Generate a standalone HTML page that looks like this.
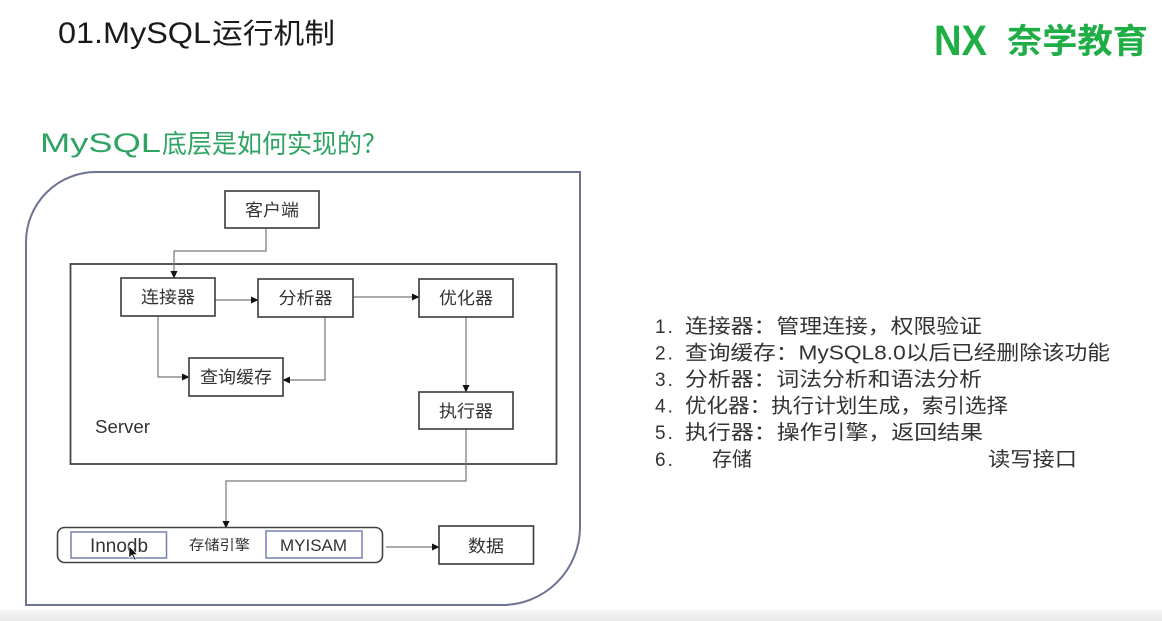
<!DOCTYPE html>
<html>
<head>
<meta charset="utf-8">
<style>
  html,body{margin:0;padding:0;background:#fff;}
  body{width:1162px;height:621px;overflow:hidden;}
  svg{display:block;}
  .t{font-family:"Liberation Sans","Noto Sans CJK SC",sans-serif;}
</style>
</head>
<body>
<svg width="1162" height="621" viewBox="0 0 1162 621" xmlns="http://www.w3.org/2000/svg">
  <defs>
    <marker id="ah" markerWidth="8" markerHeight="8" refX="7" refY="4" orient="auto" markerUnits="userSpaceOnUse">
      <path d="M0,0.5 L7.5,4 L0,7.5 Z" fill="#111"/>
    </marker>
    <linearGradient id="band" x1="0" y1="0" x2="0" y2="1">
      <stop offset="0" stop-color="#f6f6f6"/>
      <stop offset="1" stop-color="#e9e9e9"/>
    </linearGradient>
  </defs>

  <rect x="0" y="0" width="1162" height="621" fill="#ffffff"/>
  <rect x="0" y="610" width="1162" height="11" fill="url(#band)"/>

  <!-- Title -->
  <text class="t" x="58" y="43" font-size="30" fill="#1a1a1a" textLength="153" lengthAdjust="spacingAndGlyphs">01.MySQL</text>
  <text class="t" x="212" y="43" font-size="28" fill="#1a1a1a" textLength="123" lengthAdjust="spacingAndGlyphs">运行机制</text>

  <!-- Logo -->
  <text class="t" x="934" y="55" font-size="43" font-weight="bold" fill="#1fae45" textLength="53" lengthAdjust="spacingAndGlyphs">NX</text>
  <text class="t" x="1007" y="53" font-size="34" font-weight="bold" fill="#1fae45" textLength="141" lengthAdjust="spacingAndGlyphs">奈学教育</text>

  <!-- Subtitle -->
  <text class="t" x="40" y="152" font-size="27" fill="#2fa462" textLength="121" lengthAdjust="spacingAndGlyphs">MySQL</text>
  <text class="t" x="162" y="153" font-size="26" fill="#2fa462" textLength="225" lengthAdjust="spacingAndGlyphs">底层是如何实现的？</text>

  <!-- Outer rounded container -->
  <path d="M26,605 L26,242 A70,70 0 0 1 96,172 L580,172 L580,527 A78,78 0 0 1 502,605 Z" fill="none" stroke="#6c7393" stroke-width="2"/>

  <!-- Server box -->
  <rect x="70.5" y="264" width="486" height="200" fill="none" stroke="#444" stroke-width="1.8"/>
  <text class="t" x="95" y="433" font-size="18" fill="#333" textLength="55" lengthAdjust="spacingAndGlyphs">Server</text>

  <!-- Connectors -->
  <g fill="none" stroke="#777" stroke-width="1.2">
    <path d="M266,228 V251 H174 V278" marker-end="url(#ah)"/>
    <path d="M215,300 H258" marker-end="url(#ah)"/>
    <path d="M353,297 H419" marker-end="url(#ah)"/>
    <path d="M158,316 V377 H189" marker-end="url(#ah)"/>
    <path d="M325,317 V380 H283" marker-end="url(#ah)"/>
    <path d="M466,317 V392" marker-end="url(#ah)"/>
    <path d="M466,429 V481 H226 V528" marker-end="url(#ah)"/>
    <path d="M386,547 H439" marker-end="url(#ah)"/>
  </g>

  <!-- Boxes -->
  <g fill="#fff" stroke="#3a3a3a" stroke-width="1.6">
    <rect x="225" y="191" width="94" height="37"/>
    <rect x="121" y="278" width="94" height="38"/>
    <rect x="258" y="279" width="95" height="38"/>
    <rect x="419" y="279" width="94" height="38"/>
    <rect x="189" y="358" width="94" height="38"/>
    <rect x="419" y="392" width="94" height="37"/>
    <rect x="439" y="526" width="94.5" height="38"/>
  </g>
  <g class="t" font-size="17" fill="#333" text-anchor="middle">
    <text x="272" y="216" textLength="54" lengthAdjust="spacingAndGlyphs">客户端</text>
    <text x="168" y="303" textLength="54" lengthAdjust="spacingAndGlyphs">连接器</text>
    <text x="305.5" y="304" textLength="54" lengthAdjust="spacingAndGlyphs">分析器</text>
    <text x="466" y="304" textLength="54" lengthAdjust="spacingAndGlyphs">优化器</text>
    <text x="236" y="383" textLength="72" lengthAdjust="spacingAndGlyphs">查询缓存</text>
    <text x="466" y="417" textLength="54" lengthAdjust="spacingAndGlyphs">执行器</text>
    <text x="486" y="552" textLength="36" lengthAdjust="spacingAndGlyphs">数据</text>
  </g>

  <!-- Storage engine -->
  <rect x="57.5" y="527.5" width="325" height="35" rx="7" ry="7" fill="#fff" stroke="#444" stroke-width="1.6"/>
  <rect x="71" y="532" width="95.5" height="26" fill="#fff" stroke="#7580b0" stroke-width="1.5"/>
  <rect x="266" y="531" width="96" height="27" fill="#fff" stroke="#7580b0" stroke-width="1.5"/>
  <text class="t" x="90" y="552" font-size="19" fill="#333" textLength="58" lengthAdjust="spacingAndGlyphs">Innodb</text>
  <text class="t" x="189" y="550" font-size="14" fill="#333" textLength="61" lengthAdjust="spacingAndGlyphs">存储引擎</text>
  <text class="t" x="280" y="551" font-size="17" fill="#333" textLength="67" lengthAdjust="spacingAndGlyphs">MYISAM</text>
  <!-- mouse cursor -->
  <path d="M129,546 L129,558 L132,555 L134.5,560 L136,559.3 L133.6,554.5 L137.5,554.5 Z" fill="#111" stroke="#fff" stroke-width="0.6"/>

  <!-- Right list -->
  <g class="t" fill="#333">
    <text x="655" y="333" font-size="19" letter-spacing="2">1.</text>
    <text x="685" y="333" font-size="20" textLength="297" lengthAdjust="spacingAndGlyphs">连接器：管理连接，权限验证</text>
    <text x="655" y="359.5" font-size="19" letter-spacing="2">2.</text>
    <text x="685" y="359.5" font-size="20" textLength="425" lengthAdjust="spacingAndGlyphs">查询缓存：MySQL8.0以后已经删除该功能</text>
    <text x="655" y="386" font-size="19" letter-spacing="2">3.</text>
    <text x="685" y="386" font-size="20" textLength="297" lengthAdjust="spacingAndGlyphs">分析器：词法分析和语法分析</text>
    <text x="655" y="412.5" font-size="19" letter-spacing="2">4.</text>
    <text x="685" y="412.5" font-size="20" textLength="323" lengthAdjust="spacingAndGlyphs">优化器：执行计划生成，索引选择</text>
    <text x="655" y="439" font-size="19" letter-spacing="2">5.</text>
    <text x="685" y="439" font-size="20" textLength="298" lengthAdjust="spacingAndGlyphs">执行器：操作引擎，返回结果</text>
    <text x="655" y="466" font-size="19" letter-spacing="2">6.</text>
    <text x="712" y="466" font-size="20" textLength="40" lengthAdjust="spacingAndGlyphs">存储</text>
    <text x="988" y="466" font-size="20" textLength="89" lengthAdjust="spacingAndGlyphs">读写接口</text>
  </g>
</svg>
</body>
</html>
